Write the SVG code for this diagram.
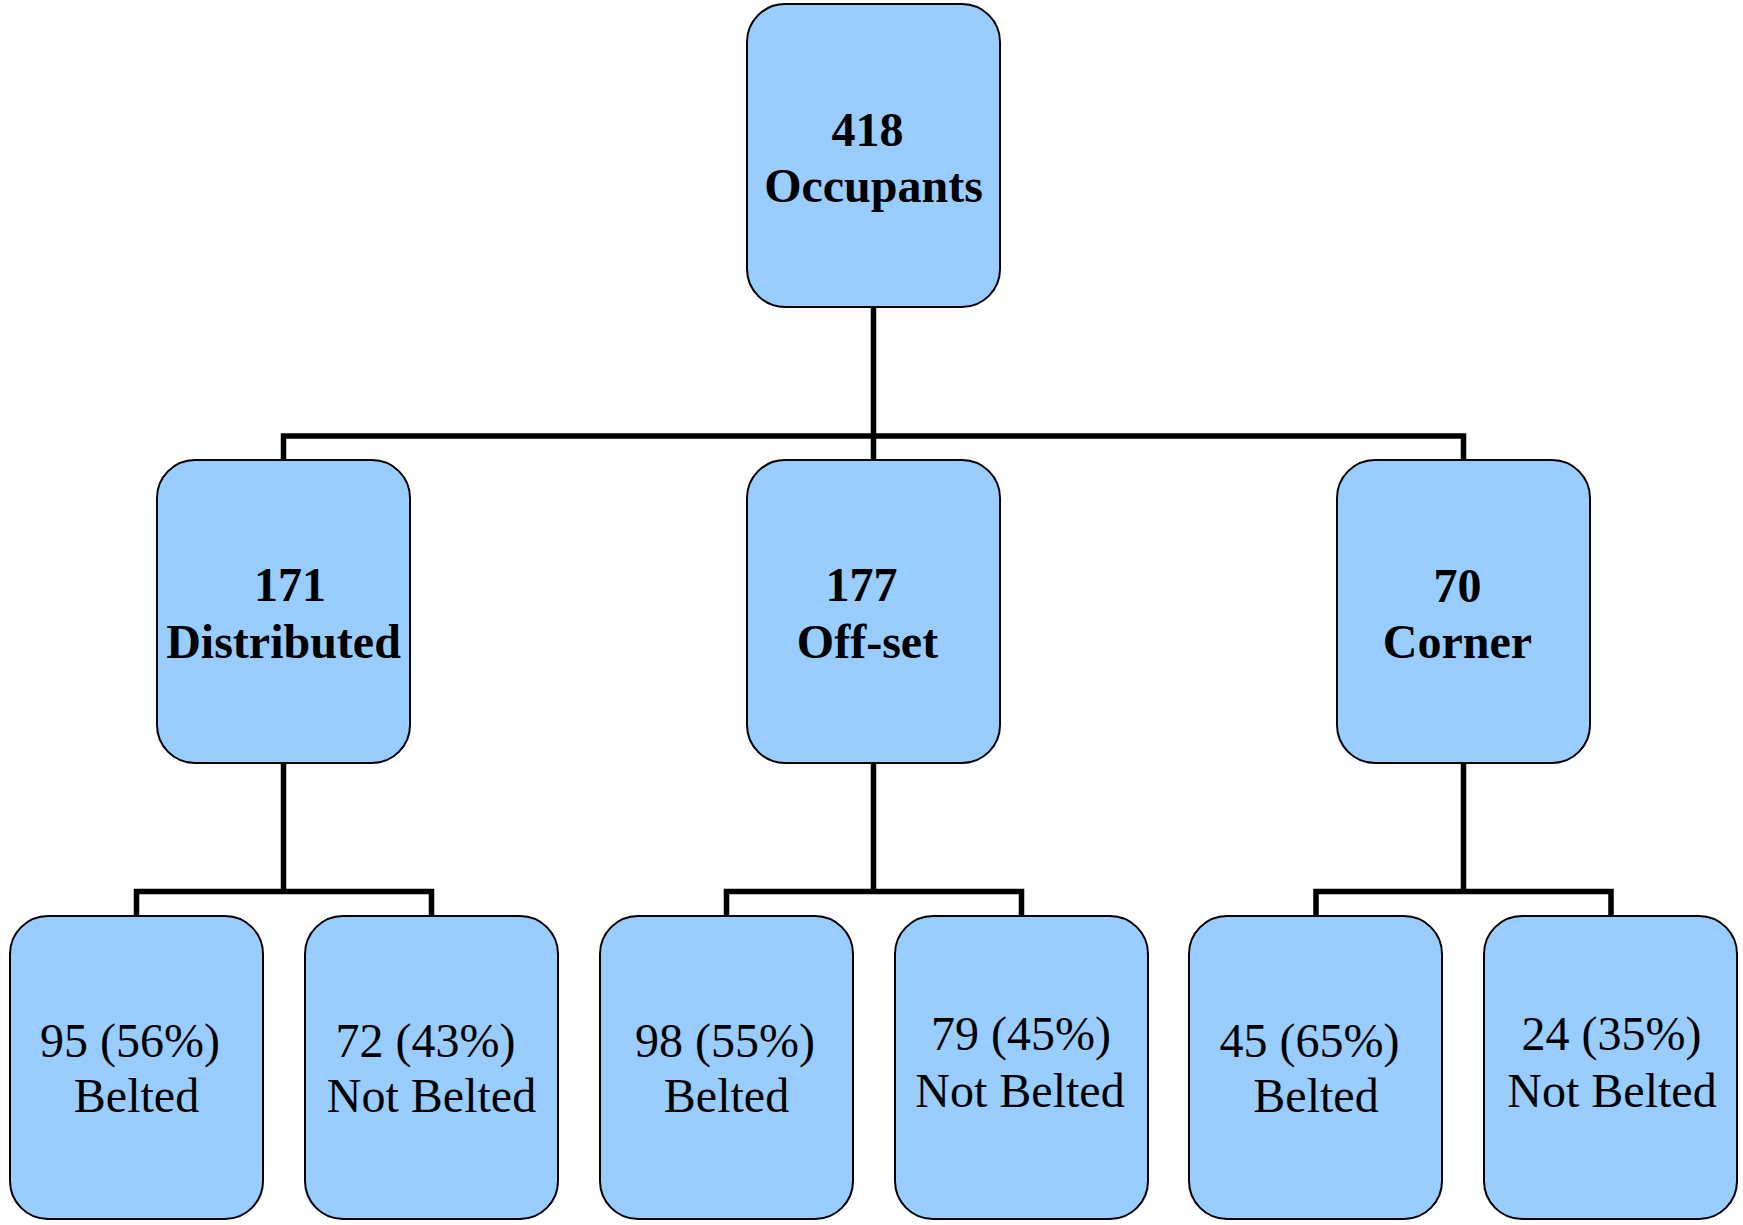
<svg xmlns="http://www.w3.org/2000/svg" width="1743" height="1225" viewBox="0 0 1743 1225">
<style>
.box{fill:#99CCFF;stroke:#000;stroke-width:2}
.b{font-family:"Liberation Serif","Times New Roman",serif;font-size:48px;font-weight:bold;text-anchor:middle;fill:#000}
.r{font-family:"Liberation Serif","Times New Roman",serif;font-size:48px;text-anchor:middle;fill:#000}
.c{fill:none;stroke:#000;stroke-width:5.5;stroke-linejoin:miter;stroke-linecap:butt}
</style>
<rect width="1743" height="1225" fill="#fff"/>
<g id="connectors">
<path class="c" d="M873.5 307V436M283.5 460V436H1463.5V460M873.5 436V460"/>
<path class="c" d="M283.5 763V891.5M136.5 916V891.5H431.5V916"/>
<path class="c" d="M873.5 763V891.5M726.5 916V891.5H1021.5V916"/>
<path class="c" d="M1463.5 763V891.5M1316 916V891.5H1611V916"/>
</g>
<g id="n-occupants">
<rect class="box" x="747" y="4" width="253" height="303" rx="38"/>
<text class="b" x="867.5" y="146">418</text>
<text class="b" x="873.5" y="202">Occupants</text>
</g>
<g id="n-distributed">
<rect class="box" x="157" y="460" width="253" height="303" rx="38"/>
<text class="b" x="290" y="601">171</text>
<text class="b" x="283.5" y="658">Distributed</text>
</g>
<g id="n-offset">
<rect class="box" x="747" y="460" width="253" height="303" rx="38"/>
<text class="b" x="861.5" y="601">177</text>
<text class="b" x="867.5" y="658">Off-set</text>
</g>
<g id="n-corner">
<rect class="box" x="1337" y="460" width="253" height="303" rx="38"/>
<text class="b" x="1457.5" y="602">70</text>
<text class="b" x="1457.5" y="658">Corner</text>
</g>
<g id="n-dist-belted">
<rect class="box" x="10" y="916" width="253" height="303" rx="38"/>
<text class="r" x="130" y="1057">95 (56%)</text>
<text class="r" x="136.5" y="1112">Belted</text>
</g>
<g id="n-dist-notbelted">
<rect class="box" x="305" y="916" width="253" height="303" rx="38"/>
<text class="r" x="425.5" y="1057">72 (43%)</text>
<text class="r" x="431.5" y="1112">Not Belted</text>
</g>
<g id="n-off-belted">
<rect class="box" x="600" y="916" width="253" height="303" rx="38"/>
<text class="r" x="725" y="1057">98 (55%)</text>
<text class="r" x="726.5" y="1112">Belted</text>
</g>
<g id="n-off-notbelted">
<rect class="box" x="895" y="916" width="253" height="303" rx="38"/>
<text class="r" x="1021" y="1050">79 (45%)</text>
<text class="r" x="1020" y="1107">Not Belted</text>
</g>
<g id="n-corner-belted">
<rect class="box" x="1189" y="916" width="253" height="303" rx="38"/>
<text class="r" x="1309.5" y="1057">45 (65%)</text>
<text class="r" x="1316" y="1112">Belted</text>
</g>
<g id="n-corner-notbelted">
<rect class="box" x="1484" y="916" width="253" height="303" rx="38"/>
<text class="r" x="1611.5" y="1050">24 (35%)</text>
<text class="r" x="1612" y="1107">Not Belted</text>
</g>
</svg>
